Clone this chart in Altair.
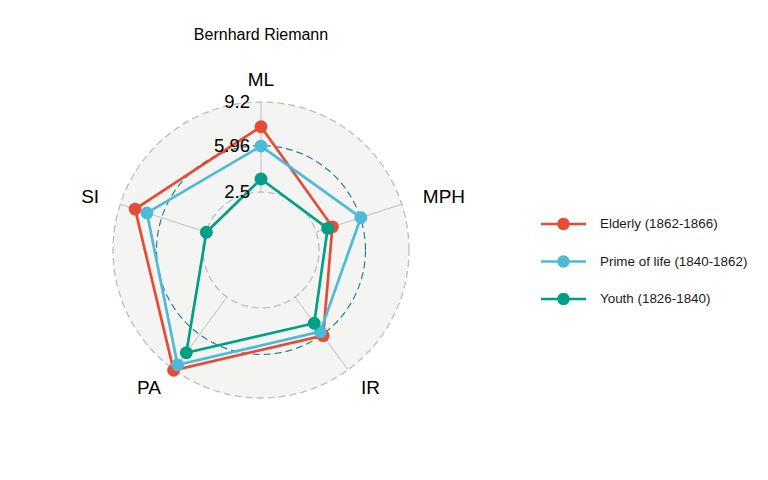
import altair as alt
import pandas as pd
import numpy as np

# ---------------- data ----------------
axis_names = ["ML", "MPH", "IR", "PA", "SI"]
series_names = ["Elderly (1862-1866)", "Prime of life (1840-1862)", "Youth (1826-1840)"]
elderly = [7.36, 3.77, 6.06, 9.25, 8.04]
prime = [5.92, 6.00, 5.69, 8.75, 7.11]
youth = [3.47, 3.40, 4.92, 7.64, 2.46]
grid_values = [2.5, 5.96, 9.2]
grid_labels = ["2.5", "5.96", "9.2"]
colors = ["#E64B35", "#4DBBD5", "#00A087"]
title_text = "Bernhard Riemann"

# ---------------- layout constants ----------------
W, H = 752, 464          # whole drawing area (view), px
CX, CY = 253, 242        # centre of the radar in view px
R = 148                  # radius of the outer grid circle, px
CENTRE = -1.817          # value at the centre of the radar
GMIN, GMAX = grid_values[0], grid_values[-1]
N = len(axis_names)
FONT = "Liberation Sans"

def rexpr(field):
    return f"{R}*({field} - ({CENTRE}))/({GMAX} - ({CENTRE}))"

ANG = f"(PI/2 - 2*PI*datum.idx/{N})"

xs = alt.Scale(domain=[-CX, W - CX], range=[0, W])
ys = alt.Scale(domain=[-(H - CY), CY], range=[H, 0])
X = lambda f: alt.X(f, type="quantitative", scale=xs, axis=None)
Y = lambda f: alt.Y(f, type="quantitative", scale=ys, axis=None)

# series table (closed polygons)
rows = []
for s, vals in zip(series_names, [elderly, prime, youth]):
    for i, v in enumerate(vals + [vals[0]]):
        rows.append({"series": s, "axis": axis_names[i % N], "idx": i, "value": v})
df = pd.DataFrame(rows)

sym = ("M-2.25,-0.12L2.25,-0.12L2.25,0.12L-2.25,0.12Z "
       "M0.62,0A0.62,0.62 0 1,1 -0.62,0A0.62,0.62 0 1,1 0.62,0Z")
legend = alt.Legend(
    title=None, orient="none", legendX=545.5, legendY=206,
    symbolType=sym, symbolSize=400, symbolStrokeWidth=0,
    labelFontSize=13.4, labelOffset=26.5, rowPadding=20.5,
    labelColor="#1A1A1A", labelFont=FONT, padding=0)
color = alt.Color("series:N", scale=alt.Scale(domain=series_names, range=colors),
                  legend=legend)

# background disc
bg_df = pd.DataFrame({"deg": list(range(0, 181, 1))})
bg = alt.Chart(bg_df).transform_calculate(
    rr=f"{R}", x=f"datum.rr*cos(datum.deg*PI/180)",
    y=f"datum.rr*sin(datum.deg*PI/180)", y2=f"-datum.rr*sin(datum.deg*PI/180)"
).mark_area(color="#F4F4F2").encode(x=X("x"), y=Y("y"), y2="y2:Q")

# grid circles
gc_rows = []
for gv in grid_values:
    for d in range(0, 361, 2):
        gc_rows.append({"level": gv, "deg": d})
gc_df = pd.DataFrame(gc_rows)
gc_base = alt.Chart(gc_df).transform_calculate(
    rr=rexpr("datum.level"),
    x="datum.rr*cos(datum.deg*PI/180)", y="datum.rr*sin(datum.deg*PI/180)"
)
gc_grey = gc_base.transform_filter(f"datum.level != {grid_values[1]}").mark_line(
    color="#BDBDBD", strokeWidth=1.3, strokeDash=[7, 4]
).encode(x=X("x"), y=Y("y"), detail="level:N", order="deg:Q")
gc_mid = gc_base.transform_filter(f"datum.level == {grid_values[1]}").mark_line(
    color="#2C7F8C", strokeWidth=1.2, strokeDash=[7, 4]
).encode(x=X("x"), y=Y("y"), detail="level:N", order="deg:Q")

# axis lines
ax_df = pd.DataFrame({"axis": axis_names, "idx": list(range(N))})
ax_lines = alt.Chart(ax_df).transform_calculate(
    r1=rexpr(str(GMIN)), r2=rexpr(str(GMAX)),
    x=f"datum.r1*cos{ANG}", y=f"datum.r1*sin{ANG}",
    x2=f"datum.r2*cos{ANG}", y2=f"datum.r2*sin{ANG}"
).mark_rule(color="#BEBEBE", strokeWidth=1).encode(
    x=X("x"), y=Y("y"), x2="x2:Q", y2="y2:Q")

# series
sbase = alt.Chart(df).transform_calculate(
    rr=rexpr("datum.value"),
    x=f"datum.rr*cos{ANG}", y=f"datum.rr*sin{ANG}"
)
lines = sbase.mark_line(strokeWidth=2.7).encode(
    x=X("x"), y=Y("y"), color=color, order="idx:Q", detail="series:N")

points = sbase.transform_filter(f"datum.idx < {N}").mark_point(
    filled=True, size=165, opacity=1).encode(
    x=X("x"), y=Y("y"), color=color)

# axis labels
lab = alt.Chart(ax_df).transform_calculate(
    rr=f"1.15*{R}", x=f"datum.rr*cos{ANG}", y=f"datum.rr*sin{ANG}"
)
def axis_text(cond, align):
    return lab.transform_filter(cond).mark_text(
        align=align, baseline="middle", fontSize=19, font=FONT, color="#000000"
    ).encode(x=X("x"), y=Y("y"), text="axis:N")
lab_c = axis_text("abs(datum.x) < 1", "center")
lab_l = axis_text("datum.x >= 1", "left")
lab_r = axis_text("datum.x <= -1", "right")

# grid labels
gl_df = pd.DataFrame({"level": grid_values, "label": grid_labels})
grid_text = alt.Chart(gl_df).transform_calculate(
    rr=rexpr("datum.level"), x="0", y="datum.rr"
).mark_text(align="right", baseline="middle", dx=-11, fontSize=18.5, font=FONT,
            color="#000000").encode(x=X("x"), y=Y("y"), text="label:N")

# title
t_df = pd.DataFrame({"t": [title_text]})
title = alt.Chart(t_df).transform_calculate(x="0").mark_text(
    align="center", baseline="alphabetic", fontSize=16, font=FONT, color="#000000"
).encode(x=X("x"), y=alt.value(32), text="t:N")

chart = alt.layer(bg, ax_lines, gc_grey, gc_mid, lines, points,
                  lab_c, lab_l, lab_r, grid_text, title).properties(
    width=W, height=H, autosize="none", padding=0
).configure(font=FONT).configure_view(stroke=None)

chart.save("out.html", embed_options={"renderer": "svg", "actions": False})
